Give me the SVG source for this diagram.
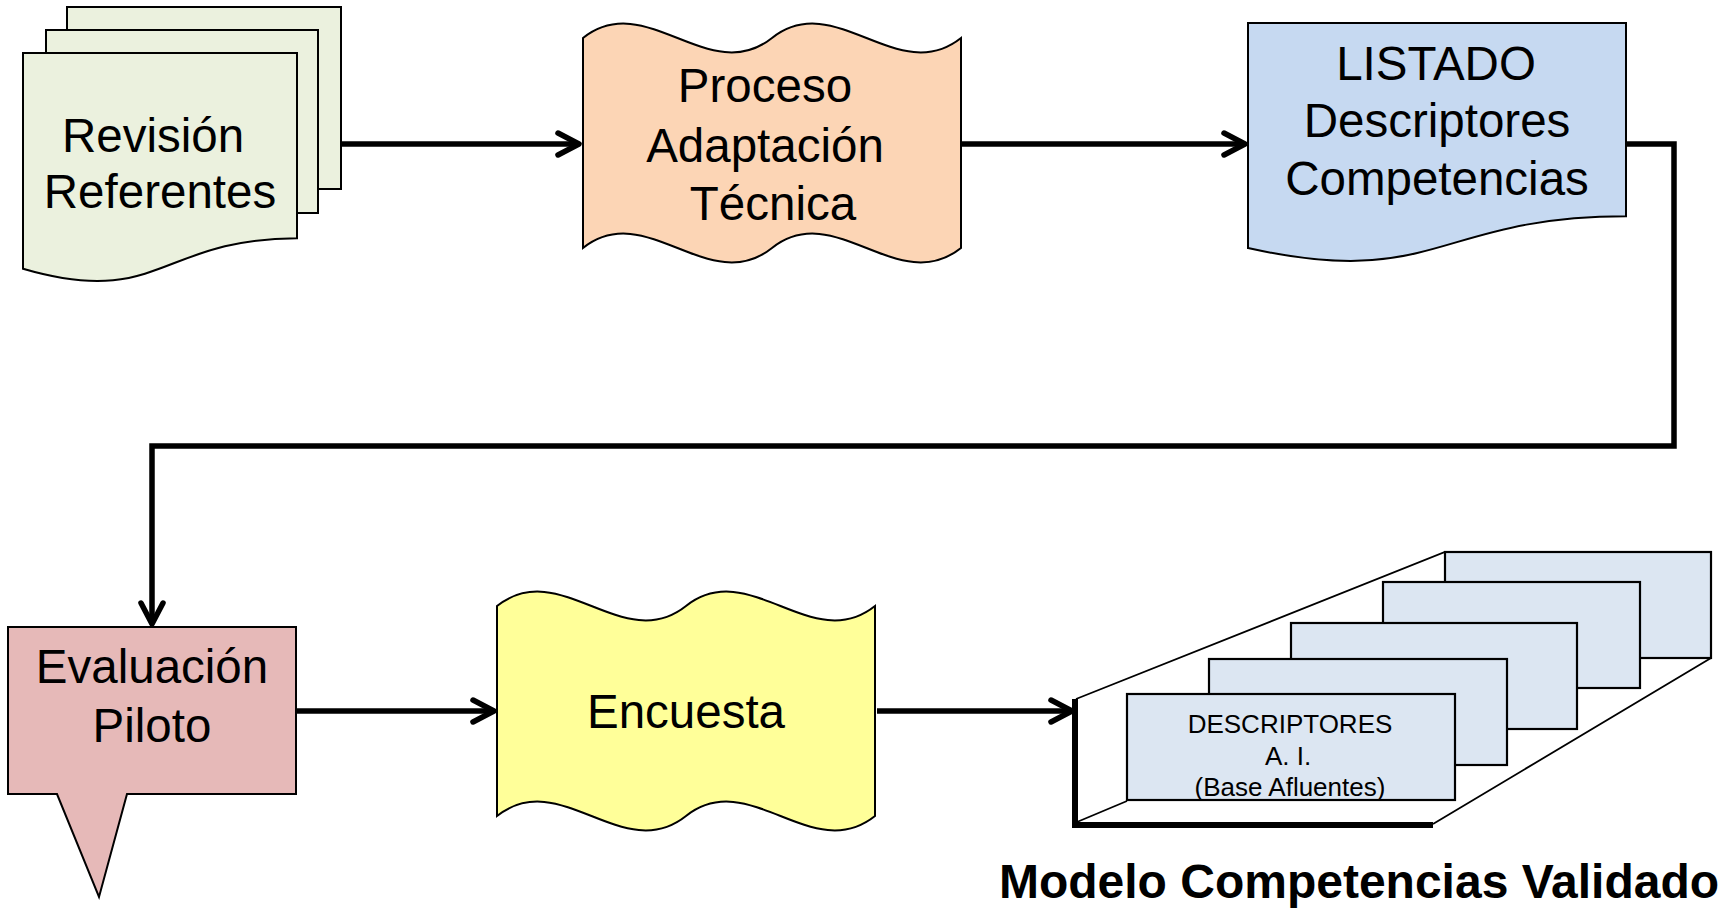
<svg xmlns="http://www.w3.org/2000/svg" width="1732" height="910" viewBox="0 0 1732 910">
<style>
  .shape { stroke: #000; stroke-width: 2; stroke-linejoin: miter; }
  .t { font-family: "Liberation Sans", Arial, sans-serif; font-size: 47.5px; fill: #000; text-anchor: middle; }
  .ts { font-family: "Liberation Sans", Arial, sans-serif; font-size: 26px; fill: #000; text-anchor: middle; }
  .tb { font-family: "Liberation Sans", Arial, sans-serif; font-size: 48px; font-weight: bold; fill: #000; text-anchor: middle; }
  .conn { fill: none; stroke: #000; stroke-width: 5.5; stroke-linejoin: miter; }
  .card { fill: #DCE6F2; stroke: #000; stroke-width: 2.2; }
  .frame { fill: none; stroke: #000; stroke-width: 1.8; }
</style>
<defs>
  <marker id="arr" markerUnits="userSpaceOnUse" viewBox="-30 -15 34 30" refX="0" refY="0" markerWidth="34" markerHeight="30" orient="auto" overflow="visible">
    <path d="M-21,-11 L0,0 L-21,11" fill="none" stroke="#000" stroke-width="5.5" stroke-linecap="round" stroke-linejoin="round"/>
  </marker>
</defs>
<rect width="1732" height="910" fill="#fff"/>

<g id="connectors">
  <path class="conn" d="M341,144 H579" marker-end="url(#arr)"/>
  <path class="conn" d="M961,144 H1245" marker-end="url(#arr)"/>
  <path class="conn" d="M1626,144 H1674 V446 H152 V624" marker-end="url(#arr)"/>
  <path class="conn" d="M296,711 H494" marker-end="url(#arr)"/>
  <path class="conn" d="M877,711 H1072" marker-end="url(#arr)"/>
</g>

<g id="revision">
  <rect class="shape" x="67" y="7" width="274" height="182" fill="#EBF1DE"/>
  <rect class="shape" x="46" y="30" width="272" height="183" fill="#EBF1DE"/>
  <path class="shape" fill="#EBF1DE" d="M23,53 H297 V238.3 C160,238.3 160,308.8 23,268.8 Z"/>
  <text class="t" x="153" y="152">Revisión</text>
  <text class="t" x="160" y="208">Referentes</text>
</g>

<g id="proceso">
  <path class="shape" fill="#FCD5B5" d="M583,38 C646,-12 709,88 772,38 C835,-12 898,88 961,38 L961,248 C898,298 835,198 772,248 C709,298 646,198 583,248 Z"/>
  <text class="t" x="765" y="102">Proceso</text>
  <text class="t" x="765" y="162">Adaptación</text>
  <text class="t" x="773" y="220">Técnica</text>
</g>

<g id="listado">
  <path class="shape" fill="#C6D9F1" d="M1248,23 H1626 V216.3 C1437,216.3 1437,289.9 1248,248.1 Z"/>
  <text class="t" x="1436" y="80">LISTADO</text>
  <text class="t" x="1437" y="137">Descriptores</text>
  <text class="t" x="1437" y="195">Competencias</text>
</g>

<g id="evaluacion">
  <path class="shape" fill="#E6B9B8" d="M8,627 H296 V794 H127 L99,897 L57,794 H8 Z"/>
  <text class="t" x="152" y="683">Evaluación</text>
  <text class="t" x="152" y="742">Piloto</text>
</g>

<g id="encuesta">
  <path class="shape" fill="#FFFF99" d="M497,606 C560,556 623,656 686,606 C749,556 812,656 875,606 L875,816 C812,866 749,766 686,816 C623,866 560,766 497,816 Z"/>
  <text class="t" x="686" y="728">Encuesta</text>
</g>

<g id="modelo">
  <path class="frame" d="M1076,699 L1445,552 H1711 V658 L1433,824"/>
  <path class="frame" d="M1077,822 L1127,801"/>
  <rect class="card" x="1445" y="552" width="266" height="106"/>
  <rect class="card" x="1383" y="582" width="257" height="106"/>
  <rect class="card" x="1291" y="623" width="286" height="106"/>
  <rect class="card" x="1209" y="659" width="298" height="106"/>
  <rect class="card" x="1127" y="694" width="328" height="106"/>
  <path d="M1075,699 V825 H1433" fill="none" stroke="#000" stroke-width="6"/>
  <text class="ts" x="1290" y="733">DESCRIPTORES</text>
  <text class="ts" x="1288" y="765">A. I.</text>
  <text class="ts" x="1290" y="796">(Base Afluentes)</text>
  <text class="tb" x="1359" y="898">Modelo Competencias Validado</text>
</g>
</svg>
